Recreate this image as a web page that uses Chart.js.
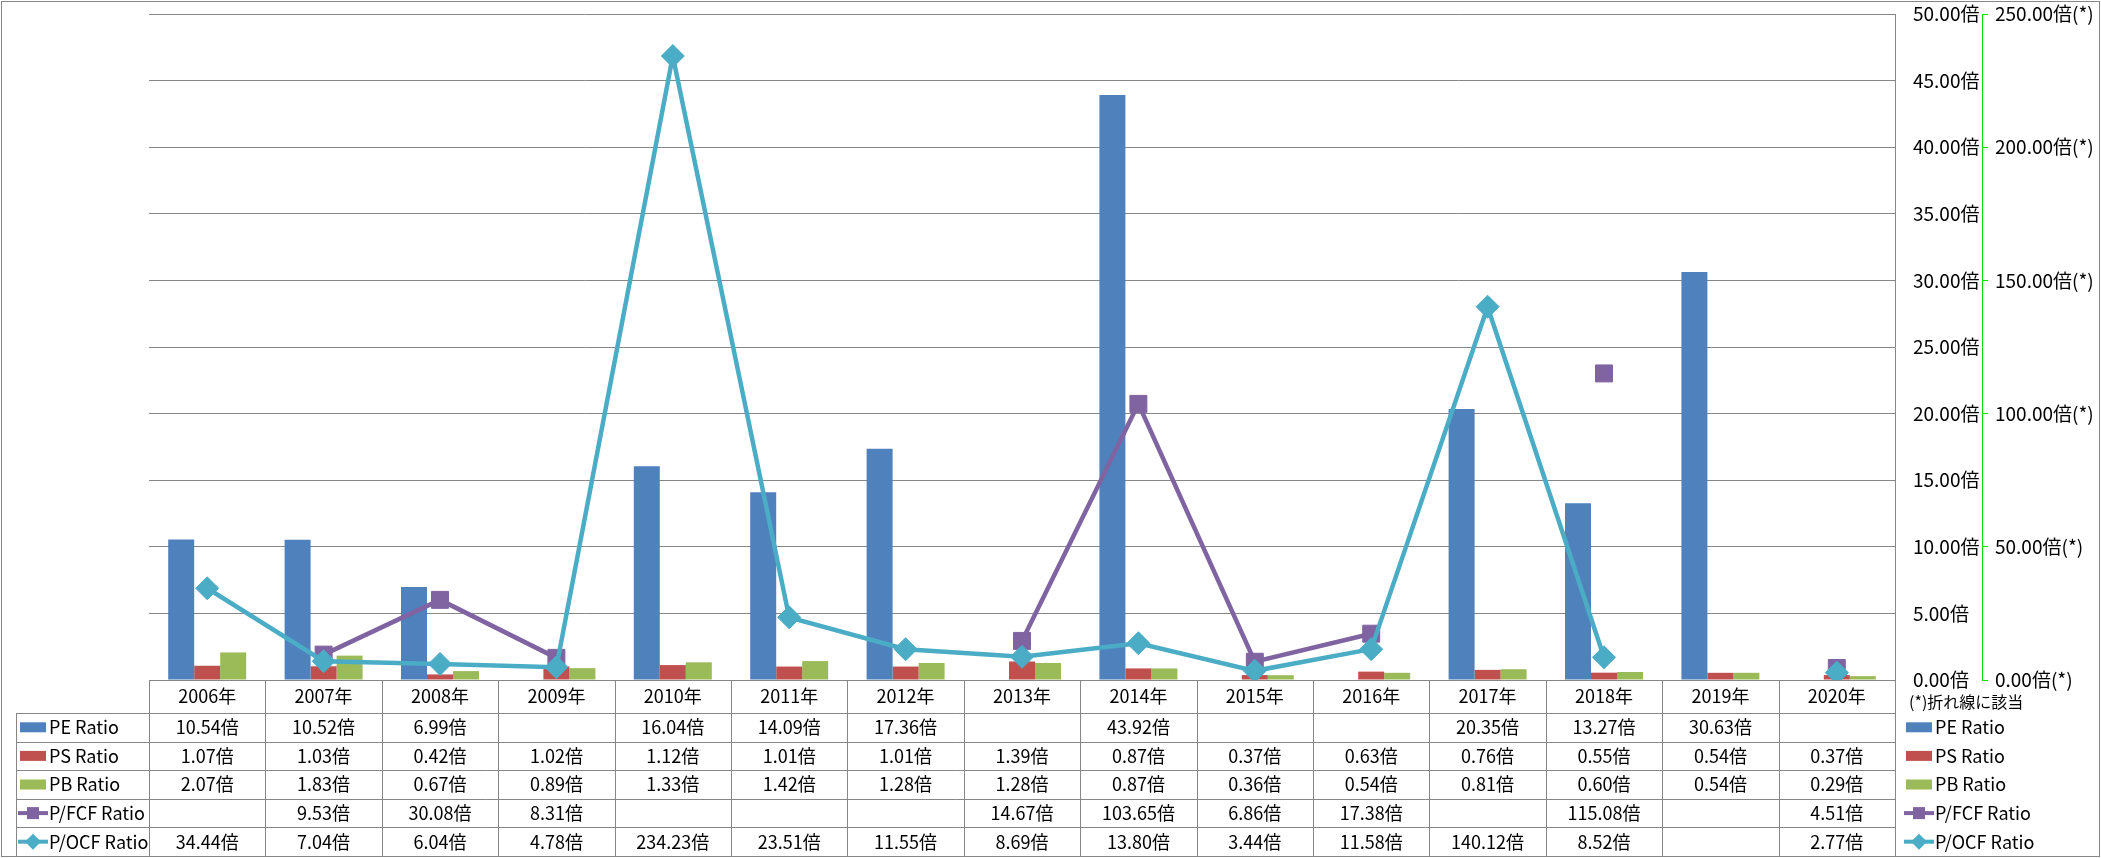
<!DOCTYPE html>
<html>
<head>
<meta charset="utf-8">
<script src="https://cdn.jsdelivr.net/npm/chart.js@4.4.1/dist/chart.umd.min.js"></script>
<style>
html, body { margin: 0; padding: 0; background: #fff; }
#wrap { width: 2101px; height: 858px; position: relative; }
</style>
</head>
<body>
<div id="wrap"><canvas id="canvas"></canvas></div>
<script>
var years = ['2006年', '2007年', '2008年', '2009年', '2010年', '2011年', '2012年', '2013年',
    '2014年', '2015年', '2016年', '2017年', '2018年', '2019年', '2020年'];
var peRatio = [10.54, 10.52, 6.99, null, 16.04, 14.09, 17.36, null, 43.92, null, null, 20.35, 13.27, 30.63, null];
var psRatio = [1.07, 1.03, 0.42, 1.02, 1.12, 1.01, 1.01, 1.39, 0.87, 0.37, 0.63, 0.76, 0.55, 0.54, 0.37];
var pbRatio = [2.07, 1.83, 0.67, 0.89, 1.33, 1.42, 1.28, 1.28, 0.87, 0.36, 0.54, 0.81, 0.60, 0.54, 0.29];
var pfcfRatio = [null, 9.53, 30.08, 8.31, null, null, null, 14.67, 103.65, 6.86, 17.38, null, 115.08, null, 4.51];
var pocfRatio = [34.44, 7.04, 6.04, 4.78, 234.23, 23.51, 11.55, 8.69, 13.80, 3.44, 11.58, 140.12, 8.52, null, 2.77];

var seriesNames = ['PE Ratio', 'PS Ratio', 'PB Ratio', 'P/FCF Ratio', 'P/OCF Ratio'];
var seriesColors = ['#4F81BD', '#C0504D', '#9BBB59', '#8064A2', '#4BACC6'];
var tickSuffix = '倍';
var lineAxisSuffix = '倍(*)';
var lineAxisNote = '(*)折れ線に該当';

var FONT = '"Noto Sans CJK JP", "Noto Sans", sans-serif';
var LINE_GRAY = '#868686';

Chart.defaults.font.family = FONT;
Chart.defaults.color = '#000';

function fmt(v, suffix) {
    return v.toFixed(2) + suffix;
}

// marker used in the table keys and right legend
function drawKey(ctx, i, x, cy) {
    ctx.save();
    ctx.fillStyle = seriesColors[i];
    ctx.strokeStyle = seriesColors[i];
    if (i < 3) {
        ctx.fillRect(x, cy - 5, 26, 10);
    } else {
        ctx.lineWidth = 4;
        ctx.beginPath();
        ctx.moveTo(x - 2, cy);
        ctx.lineTo(x + 28, cy);
        ctx.stroke();
        ctx.beginPath();
        if (i === 3) {
            ctx.rect(x + 7, cy - 6, 12, 12);
        } else {
            ctx.moveTo(x + 13, cy - 8);
            ctx.lineTo(x + 21, cy);
            ctx.lineTo(x + 13, cy + 8);
            ctx.lineTo(x + 5, cy);
            ctx.closePath();
        }
        ctx.fill();
    }
    ctx.restore();
}

// keep the axis labels from pushing the plot area down
function fixAxis(width) {
    return function (s) {
        s.width = width;
        s.paddingTop = 0;
        s.paddingBottom = 0;
    };
}

var dataTable = {
    id: 'dataTable',
    beforeDraw: function (chart) {
        var ctx = chart.ctx;
        ctx.save();
        ctx.fillStyle = '#fff';
        ctx.fillRect(0, 0, chart.width, chart.height);
        ctx.restore();
    },
    afterDraw: function (chart) {
        var ctx = chart.ctx;
        var area = chart.chartArea;
        var xs = chart.scales.x;
        var n = years.length;
        var colW = (area.right - area.left) / n;
        var headTop = area.bottom;
        var headH = 33;
        var rowH = 28.6;
        var tableLeft = 16;
        var rows = [peRatio, psRatio, pbRatio, pfcfRatio, pocfRatio];
        var bottom = headTop + headH + rowH * rows.length;
        var i, j, y;

        ctx.save();
        ctx.strokeStyle = LINE_GRAY;
        ctx.lineWidth = 1;
        ctx.beginPath();
        ctx.moveTo(area.left, Math.round(headTop) + 0.5);
        ctx.lineTo(area.right, Math.round(headTop) + 0.5);
        for (j = 0; j < rows.length; j++) {
            y = Math.round(headTop + headH + rowH * j) + 0.5;
            ctx.moveTo(tableLeft, y);
            ctx.lineTo(area.right, y);
        }
        for (i = 0; i <= n; i++) {
            var bx = Math.round(area.left + colW * i) + 0.5;
            ctx.moveTo(bx, headTop);
            ctx.lineTo(bx, bottom);
        }
        ctx.moveTo(tableLeft + 0.5, headTop + headH);
        ctx.lineTo(tableLeft + 0.5, bottom);
        ctx.stroke();

        // outer frame
        ctx.strokeRect(1.5, 1.5, chart.width - 3, chart.height - 3);

        ctx.fillStyle = '#000';
        ctx.textBaseline = 'middle';
        ctx.textAlign = 'center';
        ctx.font = '18px ' + FONT;
        for (i = 0; i < n; i++) {
            var cx = xs.getPixelForValue(i);
            ctx.fillText(years[i], cx, headTop + headH / 2);
            for (j = 0; j < rows.length; j++) {
                if (rows[j][i] !== null) {
                    ctx.fillText(fmt(rows[j][i], tickSuffix), cx, headTop + headH + rowH * (j + 0.5));
                }
            }
        }

        ctx.textAlign = 'left';
        for (j = 0; j < rows.length; j++) {
            var cy = headTop + headH + rowH * (j + 0.5);
            drawKey(ctx, j, 20, cy);
            ctx.fillText(seriesNames[j], 49, cy);
            drawKey(ctx, j, 1906, cy);
            ctx.fillText(seriesNames[j], 1935, cy);
        }
        ctx.font = '16px ' + FONT;
        ctx.fillText(lineAxisNote, 1909, headTop + 22);
        ctx.restore();
    }
};

var barBase = {
    yAxisID: 'y',
    order: 2,
    categoryPercentage: 0.67,
    barPercentage: 1.0,
    borderWidth: 0
};

var ctx = document.getElementById('canvas').getContext('2d');
var chart = new Chart(ctx, {
    type: 'bar',
    data: {
        labels: years,
        datasets: [
            Object.assign({ label: seriesNames[0], data: peRatio, backgroundColor: seriesColors[0] }, barBase),
            Object.assign({ label: seriesNames[1], data: psRatio, backgroundColor: seriesColors[1] }, barBase),
            Object.assign({ label: seriesNames[2], data: pbRatio, backgroundColor: seriesColors[2] }, barBase),
            {
                type: 'line',
                label: seriesNames[3],
                data: pfcfRatio,
                yAxisID: 'y2',
                order: 1,
                borderColor: seriesColors[3],
                backgroundColor: seriesColors[3],
                borderWidth: 4.5,
                pointStyle: 'rect',
                pointRadius: 12,
                pointBorderWidth: 1,
                tension: 0,
                spanGaps: false
            },
            {
                type: 'line',
                label: seriesNames[4],
                data: pocfRatio,
                yAxisID: 'y2',
                order: 0,
                borderColor: seriesColors[4],
                backgroundColor: seriesColors[4],
                borderWidth: 4.5,
                pointStyle: 'rectRot',
                pointRadius: 11.5,
                pointBorderWidth: 1,
                tension: 0,
                spanGaps: false
            }
        ]
    },
    options: {
        responsive: true,
        maintainAspectRatio: false,
        animation: false,
        events: [],
        layout: {
            padding: { left: 149, top: 14, right: 0, bottom: 178 }
        },
        plugins: {
            legend: { display: false },
            tooltip: { enabled: false }
        },
        scales: {
            x: {
                display: false,
                offset: true
            },
            y: {
                position: 'right',
                min: 0,
                max: 50,
                afterFit: fixAxis(87),
                grid: { color: LINE_GRAY, lineWidth: 1, drawTicks: false },
                border: { color: LINE_GRAY },
                ticks: {
                    stepSize: 5,
                    padding: 18,
                    crossAlign: 'near',
                    font: { size: 19 },
                    callback: function (v) { return fmt(v, tickSuffix); }
                }
            },
            y2: {
                position: 'right',
                min: 0,
                max: 250,
                afterFit: fixAxis(119),
                grid: { drawOnChartArea: false, color: '#00E000', tickLength: 6 },
                border: { color: '#00E000', dash: [4, 3] },
                ticks: {
                    stepSize: 50,
                    padding: 7,
                    crossAlign: 'near',
                    font: { size: 19 },
                    callback: function (v) { return fmt(v, lineAxisSuffix); }
                }
            }
        }
    },
    plugins: [dataTable]
});
</script>
</body>
</html>
